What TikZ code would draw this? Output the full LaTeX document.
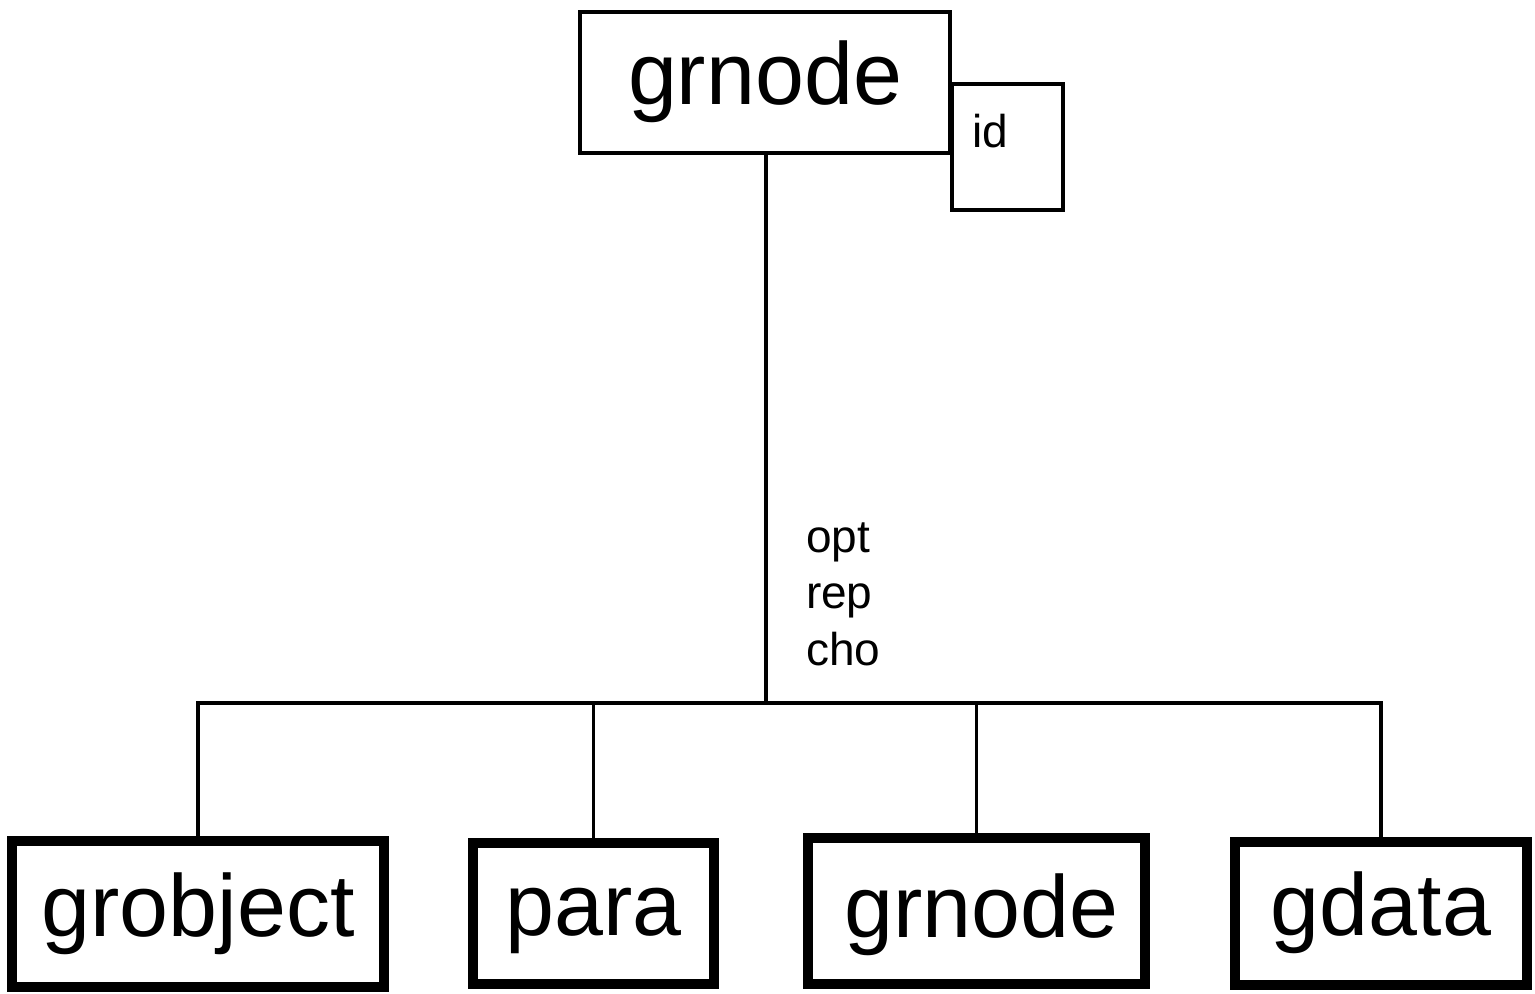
\documentclass[tikz,border=0pt]{standalone}
\usepackage{fontspec}
\setmainfont{Liberation Sans}
\usetikzlibrary{positioning}

\begin{document}
\begin{tikzpicture}[x=0.5pt,y=-0.5pt,
    elem/.style={draw,line width=2pt,inner sep=0pt,outer sep=0pt,
      text height=31.5pt,text depth=9.2pt,font=\fontsize{44}{53}\selectfont},
    child/.style={elem,line width=5pt},
    small/.style={font=\fontsize{23}{28.25}\selectfont,inner sep=0pt,outer sep=0pt},
    link/.style={line width=1.75pt}]
  \useasboundingbox (0,0) rectangle (1535,993);

  \node[draw,line width=2pt,outer sep=0pt,minimum width=55.5pt,minimum height=63pt] (id) at (1007.5,147) {};
  \node[elem,minimum width=185pt,minimum height=70.5pt] (top) at (765,82.5) {grnode};
  \node[small,anchor=base west] (idtxt) at (972,147) {id};

  \node[child,minimum width=186pt,minimum height=73pt] (grobject) at (198,914) {grobject};
  \node[child,minimum width=120.5pt,minimum height=70.5pt] (para) at (593.5,913.5) {para};
  \node[child,minimum width=168.5pt,minimum height=73pt,text depth=5pt] (grnode) at (976.5,911) {\hspace{5pt}grnode};
  \node[child,minimum width=146pt,minimum height=71.5pt] (gdata) at (1381,913.5) {gdata};

  \node[small,align=left,anchor=base west] (quant) at (806,665) {opt\\rep\\cho};

  \coordinate (bus) at (766,703);
  \draw[link] (top.south -| bus) -- (bus);
  \draw[link] (grobject.north) |- (bus) -| (gdata.north);
  \draw[link] (para.north) -- (para.north |- bus);
  \draw[link] (grnode.north) -- (grnode.north |- bus);
\end{tikzpicture}
\end{document}
